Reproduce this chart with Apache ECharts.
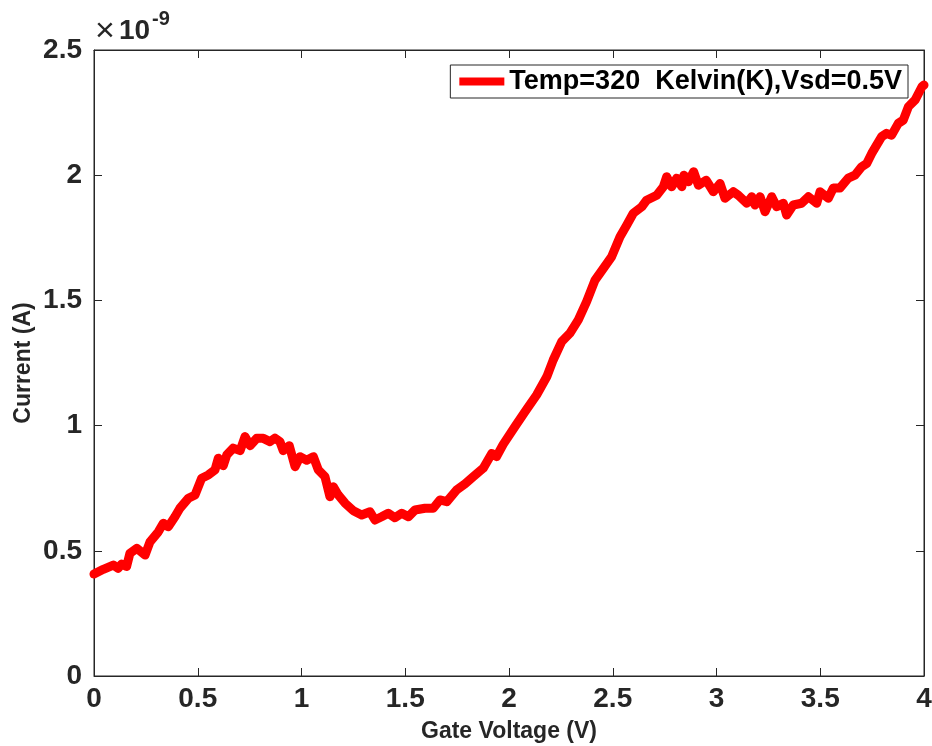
<!DOCTYPE html>
<html>
<head>
<meta charset="utf-8">
<script src="https://cdn.jsdelivr.net/npm/echarts@6/dist/echarts.min.js"></script>
<style>
  html, body { margin: 0; padding: 0; background: #fff; }
  #chart { width: 932px; height: 746px; }
</style>
</head>
<body>
<div id="chart"></div>
<script>
// gate voltage (V)
const voltage = [
  0.000, 0.045, 0.093, 0.116, 0.133, 0.157, 0.173, 0.206, 0.246, 0.270,
  0.310, 0.334, 0.358, 0.390, 0.414, 0.455, 0.487, 0.519, 0.551, 0.583,
  0.599, 0.623, 0.640, 0.671, 0.704, 0.728, 0.752, 0.784, 0.816, 0.848,
  0.872, 0.896, 0.912, 0.941, 0.969, 0.993, 1.025, 1.057, 1.081, 1.113,
  1.137, 1.153, 1.177, 1.210, 1.250, 1.290, 1.330, 1.354, 1.386, 1.418,
  1.450, 1.483, 1.515, 1.547, 1.595, 1.635, 1.667, 1.700, 1.748, 1.788,
  1.828, 1.876, 1.917, 1.940, 1.972, 2.029, 2.077, 2.133, 2.182, 2.213,
  2.254, 2.294, 2.334, 2.374, 2.414, 2.455, 2.495, 2.535, 2.567, 2.599,
  2.640, 2.663, 2.712, 2.744, 2.760, 2.784, 2.808, 2.833, 2.843, 2.865,
  2.890, 2.913, 2.950, 2.985, 3.017, 3.041, 3.081, 3.105, 3.146, 3.170,
  3.186, 3.210, 3.234, 3.266, 3.290, 3.322, 3.338, 3.370, 3.410, 3.443,
  3.483, 3.499, 3.539, 3.563, 3.595, 3.635, 3.667, 3.700, 3.724, 3.748,
  3.796, 3.820, 3.844, 3.876, 3.900, 3.925, 3.957, 3.990, 4.000
];
// current, in units of 1e-9 A
const current = [
  0.407, 0.426, 0.443, 0.430, 0.447, 0.437, 0.490, 0.510, 0.483, 0.536,
  0.576, 0.610, 0.596, 0.636, 0.670, 0.710, 0.723, 0.790, 0.803, 0.823,
  0.870, 0.840, 0.883, 0.910, 0.900, 0.956, 0.920, 0.949, 0.949, 0.936,
  0.950, 0.936, 0.900, 0.920, 0.836, 0.876, 0.862, 0.876, 0.823, 0.796,
  0.716, 0.756, 0.723, 0.690, 0.660, 0.643, 0.656, 0.623, 0.636, 0.650,
  0.632, 0.650, 0.636, 0.663, 0.670, 0.670, 0.703, 0.696, 0.743, 0.767,
  0.796, 0.830, 0.889, 0.876, 0.925, 0.996, 1.055, 1.122, 1.195, 1.262,
  1.335, 1.369, 1.422, 1.495, 1.580, 1.628, 1.675, 1.754, 1.800, 1.848,
  1.874, 1.900, 1.920, 1.954, 1.994, 1.954, 1.988, 1.954, 2.000, 1.974,
  2.014, 1.960, 1.980, 1.934, 1.967, 1.908, 1.934, 1.920, 1.888, 1.914,
  1.881, 1.914, 1.854, 1.914, 1.874, 1.888, 1.841, 1.881, 1.888, 1.914,
  1.888, 1.934, 1.908, 1.949, 1.949, 1.988, 2.000, 2.034, 2.047, 2.087,
  2.154, 2.167, 2.160, 2.207, 2.220, 2.274, 2.300, 2.353, 2.360
];
const xTicks = [0, 0.5, 1, 1.5, 2, 2.5, 3, 3.5, 4];
const yTicks = [0, 0.5, 1, 1.5, 2, 2.5];
const seriesName = 'Temp=320  Kelvin(K),Vsd=0.5V';

const axisColor = '#262626';
const font = '"Liberation Sans", Arial, Helvetica, sans-serif';

const points = voltage.map((v, i) => [v, current[i]]);

const chart = echarts.init(document.getElementById('chart'));

const baseAxis = {
  type: 'value',
  show: true,
  axisLine: { show: true, onZero: false, lineStyle: { color: axisColor, width: 1 } },
  axisTick: { show: true, inside: true, length: 8, lineStyle: { color: axisColor, width: 1 } },
  splitLine: { show: false }
};

chart.setOption({
  animation: false,
  backgroundColor: '#fff',
  grid: {
    left: 94, right: 8, top: 50, bottom: 70,
    containLabel: false,
    outerBoundsMode: 'none',
    show: true, borderColor: axisColor, borderWidth: 1
  },
  legend: {
    data: [seriesName],
    right: 24,
    top: 65,
    padding: [3, 6, 3, 9],
    icon: 'rect',
    itemWidth: 45,
    itemHeight: 8,
    borderColor: axisColor,
    borderWidth: 1,
    textStyle: { fontFamily: font, fontWeight: 'bold', fontSize: 27, color: '#000' }
  },
  xAxis: [
    Object.assign({}, baseAxis, {
      min: xTicks[0], max: xTicks[xTicks.length - 1], interval: 0.5,
      position: 'bottom',
      name: 'Gate Voltage (V)',
      nameLocation: 'middle',
      nameGap: 44,
      nameMoveOverlap: false,
      nameTextStyle: { fontFamily: font, fontWeight: 'bold', fontSize: 23, color: axisColor },
      axisLabel: { margin: 9, fontFamily: font, fontWeight: 'bold', fontSize: 28, color: axisColor }
    }),
    Object.assign({}, baseAxis, {
      min: xTicks[0], max: xTicks[xTicks.length - 1], interval: 0.5,
      position: 'top',
      axisLabel: { show: false }
    })
  ],
  yAxis: [
    Object.assign({}, baseAxis, {
      min: yTicks[0], max: yTicks[yTicks.length - 1], interval: 0.5,
      position: 'left',
      name: 'Current (A)',
      nameLocation: 'middle',
      nameGap: 59,
      nameMoveOverlap: false,
      nameTextStyle: { fontFamily: font, fontWeight: 'bold', fontSize: 23, color: axisColor },
      axisLabel: { margin: 12, fontFamily: font, fontWeight: 'bold', fontSize: 28, color: axisColor }
    }),
    Object.assign({}, baseAxis, {
      min: yTicks[0], max: yTicks[yTicks.length - 1], interval: 0.5,
      position: 'right',
      axisLabel: { show: false }
    })
  ],
  graphic: [
    {
      type: 'text', left: 95, top: 15,
      style: { text: '×', font: 'normal 34px ' + font, fill: axisColor }
    },
    {
      type: 'text', left: 119, top: 17,
      style: { text: '10', font: 'bold 28px ' + font, fill: axisColor }
    },
    {
      type: 'text', left: 152, top: 9,
      style: { text: '-9', font: 'bold 20px ' + font, fill: axisColor }
    }
  ],
  series: [
    {
      name: seriesName,
      type: 'line',
      data: points,
      showSymbol: false,
      color: '#ff0000',
      lineStyle: { color: '#ff0000', width: 9, cap: 'round', join: 'round' }
    },
    {
      // binds the top and right frame axes so they get drawn
      type: 'line',
      xAxisIndex: 1,
      yAxisIndex: 1,
      data: [],
      silent: true
    }
  ]
});
</script>
</body>
</html>
